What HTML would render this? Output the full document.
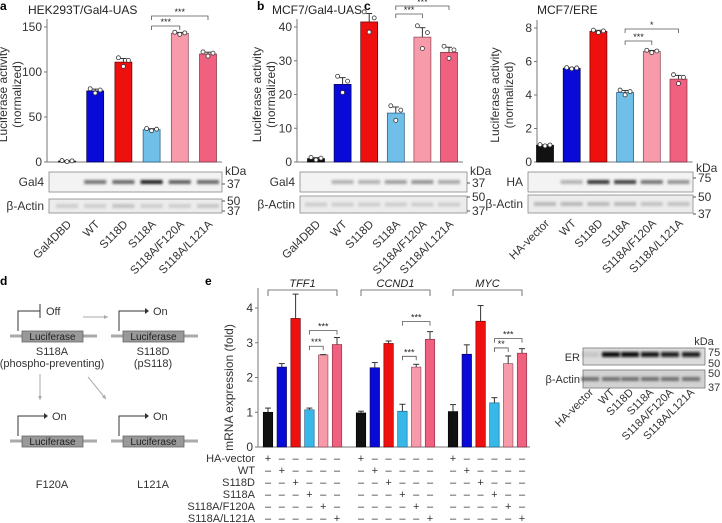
<!DOCTYPE html>
<html><head><meta charset="utf-8"><style>
body{margin:0;background:#fff;}
svg{display:block;font-family:"Liberation Sans",sans-serif;}
</style></head><body>
<svg id="fig" width="722" height="523" viewBox="0 0 722 523" xmlns="http://www.w3.org/2000/svg">
<defs><filter id="bl" x="-20%" y="-100%" width="140%" height="300%"><feGaussianBlur stdDeviation="1.2"/></filter></defs>
<g id="root"></g>
</svg>
<script>
// ---------- data ----------
const lanesA = ["Gal4DBD","WT","S118D","S118A","S118A/F120A","S118A/L121A"];
const valuesA = [1,79,111,36,143,120];
const errA = [0.5,2,4,1,1,2];
const ticksA = [0,50,100,150];
const lanesB = ["Gal4DBD","WT","S118D","S118A","S118A/F120A","S118A/L121A"];
const valuesB = [1,23,41.5,14.5,37,32.5];
const errB = [0.3,2,2.5,1.8,2.8,1.5];
const ticksB = [0,10,20,30,40];
const lanesC = ["HA-vector","WT","S118D","S118A","S118A/F120A","S118A/L121A"];
const valuesC = [1,5.6,7.8,4.15,6.6,4.95];
const errC = [0.03,0.03,0.06,0.12,0.06,0.22];
const ticksC = [0,2,4,6,8];
const genesE = ["TFF1","CCND1","MYC"];
const valuesTFF1 = [1,2.3,3.7,1.07,2.65,2.95];
const errTFF1 = [0.12,0.1,0.7,0.05,0.01,0.2];
const valuesCCND1 = [0.98,2.28,2.98,1.03,2.3,3.1];
const errCCND1 = [0.05,0.15,0.07,0.2,0.08,0.22];
const valuesMYC = [1.02,2.67,3.62,1.27,2.4,2.7];
const errMYC = [0.2,0.27,0.45,0.15,0.22,0.13];
const ticksE = [0,1,2,3,4];
const rowsE = ["HA-vector","WT","S118D","S118A","S118A/F120A","S118A/L121A"];
const bandA = [0,0.6,0.65,1,0.7,0.65];
const bandB = [0,0.3,0.3,0.4,0.45,0.35];
const bandC = [0,0.3,0.9,0.85,0.6,0.45];
const bandER = [0.1,1,1,0.95,0.9,0.9];

const colors = ["#111111","#0a0ad8","#ee0f0f","#6fbfe8","#f79aaa","#f0607f"];
const strokes = ["#000","#000050","#600","#1d5a80","#8a4050","#803040"];
const NS="http://www.w3.org/2000/svg";
const root=document.getElementById('root');
function el(tag,attrs,parent,text){const e=document.createElementNS(NS,tag);for(const k in attrs)e.setAttribute(k,attrs[k]);if(text!==undefined)e.textContent=text;(parent||root).appendChild(e);return e;}

function barPanel(cfg){
  const g=el('g',{});
  
  
  const ys=v=>cfg.y0-(v/cfg.max)*(cfg.y0-cfg.yTop);
  const xs=i=>cfg.x0+i*cfg.step;
  const ax=el('line',{x1:cfg.axX,y1:cfg.yTop-8,x2:cfg.axX,y2:cfg.y0,stroke:'#777','stroke-width':1},g);
  
  const bx=el('line',{x1:cfg.axX,y1:cfg.y0,x2:xs(5)+14,y2:cfg.y0,stroke:'#777','stroke-width':1},g);
  
  cfg.ticks.forEach(t=>{
    el('line',{x1:cfg.axX-3,y1:ys(t),x2:cfg.axX,y2:ys(t),stroke:'#777'},g);
    const tl=el('text',{x:cfg.axX-5,y:ys(t)+4,'font-size':12,'text-anchor':'end',fill:'#333'},g,String(t));
    
  });
  const yt=el('text',{transform:`translate(${cfg.titleX},${(cfg.y0+cfg.yTop)/2}) rotate(-90)`,'font-size':12,'text-anchor':'middle',fill:'#333'},g);
  
  el('tspan',{x:0,dy:-7},yt,'Luciferase activity');el('tspan',{x:0,dy:14},yt,'(normalized)');
  cfg.values.forEach((v,i)=>{
    const x=xs(i),w=17;
    const b=el('rect',{x:x-w/2,y:ys(v),width:w,height:cfg.y0-ys(v),fill:colors[i],stroke:strokes[i],'stroke-width':0.7},g);
    
    const e=cfg.err[i];
    el('line',{x1:x,y1:ys(v),x2:x,y2:ys(v+e),stroke:'#333'},g);
    el('line',{x1:x-3,y1:ys(v+e),x2:x+3,y2:ys(v+e),stroke:'#333'},g);
    [-5,0,5].forEach((d,k)=>{
      const jitter=[1,-1,0.4][k]*e*1.2;
      el('circle',{cx:x+d,cy:ys(v+jitter),r:2,fill:'#fff',stroke:'#333','stroke-width':0.8},g);
    });
  });
  cfg.sig.forEach(s=>{
    const x1=xs(s[0]),x2=xs(s[1]),y=s[2];
    el('path',{d:`M${x1},${y+4}V${y}H${x2}V${y+4}`,fill:'none',stroke:'#555','stroke-width':0.8},g);
    el('text',{x:(x1+x2)/2,y:y-1,'font-size':9,'text-anchor':'middle',fill:'#222'},g,s[3]);
  });
  cfg.blots.forEach(bl=>{
    const bg=el('g',{},g);
    
    el('rect',{x:cfg.bx1,y:bl.y,width:cfg.bx2-cfg.bx1,height:bl.h,fill:bl.bg,stroke:'#888','stroke-width':0.8},bg);
    cfg.values.forEach((v,i)=>{
      const a=bl.bands[i];
      if(a>0)el('rect',{x:xs(i)-11,y:bl.y+bl.h/2-2,width:22,height:4,fill:'#222',opacity:a,filter:'url(#bl)'},bg);
    });
    el('text',{x:cfg.bx1-5,y:bl.y+bl.h/2+4,'font-size':12,'text-anchor':'end',fill:'#333'},bg,bl.label);
    bl.kda.forEach(k=>{el('line',{x1:cfg.bx2,y1:k[1],x2:cfg.bx2+3,y2:k[1],stroke:'#555'},bg);el('text',{x:cfg.bx2+5,y:k[1]+4,'font-size':12,fill:'#333'},bg,k[0]);});
  });
  el('text',{x:cfg.bx2+3,y:cfg.kdaY,'font-size':12,fill:'#333'},g,'kDa');
  cfg.lanes.forEach((l,i)=>{
    const t=el('text',{transform:`translate(${xs(i)+5},${cfg.labY}) rotate(-45)`,'font-size':11.5,'text-anchor':'end',fill:'#333'},g,l);
    
  });
  const pl=el('text',{x:cfg.letterX,y:10,'font-size':12,'font-weight':'bold'},g,cfg.letter);
  
  const tt=el('text',{x:cfg.titleTX,y:14,'font-size':12,fill:'#222'},g,cfg.title);
  
}
const actinBg='#ececec';
barPanel({name:'panel-a',letter:'a',letterX:0,title:'HEK293T/Gal4-UAS',titleTX:28,lanes:lanesA,values:valuesA,err:errA,ticks:ticksA,max:150,y0:162,yTop:27,x0:67,step:28.2,axX:47,titleX:14,
  sig:[[3,4,26,'***'],[3,5,16,'***']],bx1:49,bx2:222,kdaY:175,labY:225,
  blots:[{label:'Gal4',y:172,h:20,bg:'#f3f3f3',bands:bandA,kda:[['37',184]]},{label:'β-Actin',y:199,h:14,bg:actinBg,bands:[.15,.15,.2,.15,.15,.18],kda:[['50',201],['37',211]]}]});
barPanel({name:'panel-b',letter:'b',letterX:257,title:'MCF7/Gal4-UAS',titleTX:272,lanes:lanesB,values:valuesB,err:errB,ticks:ticksB,max:40,y0:162,yTop:27,x0:316,step:26.6,axX:297,titleX:268,
  sig:[[3,4,14,'***'],[3,5,6,'***']],bx1:300,bx2:467,kdaY:175,labY:225,
  blots:[{label:'Gal4',y:172,h:20,bg:'#f3f3f3',bands:bandB,kda:[['37',183]]},{label:'β-Actin',y:196,h:17,bg:actinBg,bands:[.15,.15,.15,.15,.15,.15],kda:[['50',197],['37',211]]}]});
barPanel({name:'panel-c',letter:'c',letterX:364,title:'MCF7/ERE',titleTX:537,lanes:lanesC,values:valuesC,err:errC,ticks:ticksC,max:8,y0:162,yTop:28,x0:545,step:26.7,axX:537,titleX:506,
  sig:[[3,4,41,'***'],[3,5,29,'*']],bx1:528,bx2:693,kdaY:172,labY:224,
  blots:[{label:'HA',y:172,h:20,bg:'#f3f3f3',bands:bandC,kda:[['75',178]]},{label:'β-Actin',y:195,h:18,bg:actinBg,bands:[.25,.25,.25,.25,.2,.2],kda:[['50',197],['37',214]]}]});

// ---------- panel d ----------
(function(){
  const g=el('g',{});
  
  el('text',{x:0,y:285,'font-size':12,'font-weight':'bold'},g,'d');
  function gene(x,y,state){
    el('line',{x1:x-12,y1:y+5,x2:x+75,y2:y+5,stroke:'#aaa','stroke-width':3},g);
    const r=el('rect',{x:x,y:y,width:61,height:11,fill:'#999',stroke:'#666','stroke-width':0.8},g);
    
    el('text',{x:x+30.5,y:y+9,'font-size':10,'text-anchor':'middle',fill:'#222'},g,'Luciferase');
    if(state==='off'){
      el('path',{d:`M${x-4},${y}V${y-20}H${x+18}`,fill:'none',stroke:'#333','stroke-width':1},g);
      el('line',{x1:x+18,y1:y-27,x2:x+18,y2:y-13,stroke:'#333'},g);
      el('text',{x:x+24,y:y-16,'font-size':11,fill:'#333'},g,'Off');
    } else {
      el('path',{d:`M${x-4},${y}V${y-20}H${x+22}`,fill:'none',stroke:'#333','stroke-width':1},g);
      el('path',{d:`M${x+22},${y-23}l4,3l-4,3z`,fill:'#333'},g);
      el('text',{x:x+30,y:y-16,'font-size':11,fill:'#333'},g,'On');
    }
  }
  gene(22,331,'off');gene(123,331,'on');gene(22,436,'on');gene(123,436,'on');
  const txt=[[52,355,'S118A'],[52,367,'(phospho-preventing)'],[153,355,'S118D'],[153,367,'(pS118)'],[52,488,'F120A'],[153,488,'L121A']];
  txt.forEach(t=>el('text',{x:t[0],y:t[1],'font-size':11,'text-anchor':'middle',fill:'#333'},g,t[2]));
  const arr=[[83,317,108,317],[40,374,40,400],[88,377,106,399]];
  arr.forEach(a=>{
    el('line',{x1:a[0],y1:a[1],x2:a[2],y2:a[3],stroke:'#aaa','stroke-width':1},g);
    const ang=Math.atan2(a[3]-a[1],a[2]-a[0]);
    const p=(d,o)=>[a[2]-d*Math.cos(ang)+o*Math.sin(ang),a[3]-d*Math.sin(ang)-o*Math.cos(ang)];
    const p1=p(4,2),p2=p(4,-2);
    el('path',{d:`M${a[2]},${a[3]}L${p1[0]},${p1[1]}L${p2[0]},${p2[1]}z`,fill:'#aaa'},g);
  });
})();

// ---------- panel e ----------
(function(){
  const g=el('g',{});
  
  const y0=447,yTop=308,max=4,axX=258,step=13.8,w=9.5;
  const groupStart=[268,361,453];
  const series=[valuesTFF1,valuesCCND1,valuesMYC];
  const errs=[errTFF1,errCCND1,errMYC];
  const ys=v=>y0-(v/max)*(y0-yTop);
  el('text',{x:205,y:285,'font-size':12,'font-weight':'bold'},g,'e');
  const ax=el('line',{x1:axX,y1:288,x2:axX,y2:y0,stroke:'#777'},g);
  
  const xa=el('line',{x1:axX,y1:y0,x2:530,y2:y0,stroke:'#777'},g);
  
  ticksE.forEach(t=>{el('line',{x1:axX-3,y1:ys(t),x2:axX,y2:ys(t),stroke:'#777'},g);
    const tl=el('text',{x:axX-5,y:ys(t)+4,'font-size':12,'text-anchor':'end',fill:'#333'},g,String(t));
    });
  const yt=el('text',{transform:`translate(${233},${(y0+yTop)/2+10}) rotate(-90)`,'font-size':12,'text-anchor':'middle',fill:'#333'},g,'mRNA expression (fold)');
  
  const xs=(gi,i)=>groupStart[gi]+i*step;
  series.forEach((vals,gi)=>{
    const x1=xs(gi,0),x2=xs(gi,5);
    el('path',{d:`M${x1},${296}V${290}H${x2}V${296}`,fill:'none',stroke:'#555','stroke-width':0.8},g);
    const gl=el('text',{x:(x1+x2)/2,y:287,'font-size':11,'font-style':'italic','text-anchor':'middle',fill:'#222'},g,genesE[gi]);
    
    vals.forEach((v,i)=>{
      const x=xs(gi,i);
      const b=el('rect',{x:x-w/2,y:ys(v),width:w,height:y0-ys(v),fill:colors[i]==='#6fbfe8'?'#38b8e8':colors[i],stroke:strokes[i],'stroke-width':0.6},g);
      
      const e=errs[gi][i];
      el('line',{x1:x,y1:ys(v),x2:x,y2:ys(v+e),stroke:'#333'},g);
      el('line',{x1:x-3,y1:ys(v+e),x2:x+3,y2:ys(v+e),stroke:'#333'},g);
    });
    const sigs=[[3,4,gi===2?'**':'***',ys(Math.max(vals[4]+errs[gi][4],vals[3]))-8],[3,5,'***',ys(Math.max(vals[5]+errs[gi][5],vals[4]+errs[gi][4]))-10]];
    if(gi===0){sigs[0][3]=ys(2.9);sigs[1][3]=ys(3.35);}
    sigs.forEach(s=>{const a=xs(gi,s[0]),b=xs(gi,s[1]),y=s[3];
      el('path',{d:`M${a},${y+4}V${y}H${b}V${y+4}`,fill:'none',stroke:'#555','stroke-width':0.8},g);
      el('text',{x:(a+b)/2,y:y-1,'font-size':9,'text-anchor':'middle',fill:'#222'},g,s[2]);});
  });
  rowsE.forEach((r,ri)=>{
    const y=458+ri*12;
    const rl=el('text',{x:255,y:y+4,'font-size':11,'text-anchor':'end',fill:'#333'},g,r);
    
    for(let gi=0;gi<3;gi++)for(let i=0;i<6;i++){
      el('text',{x:xs(gi,i),y:y+4,'font-size':11,'text-anchor':'middle',fill:'#333'},g,i===ri?'+':'–');
    }
  });
})();

// ---------- right blot ----------
(function(){
  const g=el('g',{});
  
  const bx1=583,bx2=705,lanes=[590,611,630,650,670,691];
  el('rect',{x:bx1,y:348,width:bx2-bx1,height:17,fill:'#dcdcdc',stroke:'#777','stroke-width':0.8},g);
  el('rect',{x:bx1,y:370,width:bx2-bx1,height:18,fill:'#d2d2d2',stroke:'#777','stroke-width':0.8},g);
  lanes.forEach((x,i)=>{
    el('rect',{x:x-9,y:352,width:18,height:5,fill:'#111',opacity:bandER[i],filter:'url(#bl)'},g);
    el('rect',{x:x-9,y:377,width:18,height:4,fill:'#222',opacity:0.55,filter:'url(#bl)'},g);
    const t=el('text',{transform:`translate(${x+4},${393}) rotate(-45)`,'font-size':11,'text-anchor':'end',fill:'#333'},g,lanesC[i]);
    
  });
  el('text',{x:580,y:361,'font-size':11,'text-anchor':'end',fill:'#333'},g,'ER');
  el('text',{x:580,y:383,'font-size':11,'text-anchor':'end',fill:'#333'},g,'β-Actin');
  el('text',{x:704,y:345,'font-size':11,'text-anchor':'middle',fill:'#333'},g,'kDa');
  [['75',352],['50',363],['50',373],['37',387]].forEach(k=>el('text',{x:708,y:k[1]+4,'font-size':11,fill:'#333'},g,k[0]));
})();
</script>
</body></html>
